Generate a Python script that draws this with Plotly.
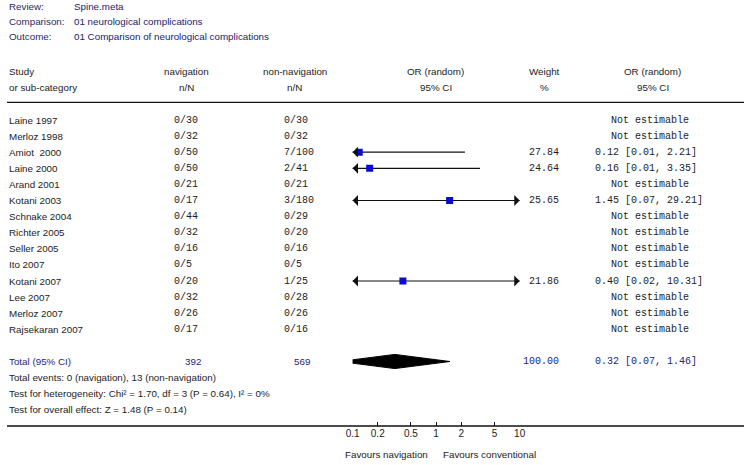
import numpy as np
import plotly.graph_objects as go

# ---------------- data ----------------
header_labels = ["Review:", "Comparison:", "Outcome:"]
header_values = ["Spine.meta", "01 neurological complications", "01 Comparison of neurological complications"]

studies = ["Laine 1997", "Merloz 1998", "Amiot\u00a0 2000", "Laine 2000", "Arand 2001", "Kotani 2003",
           "Schnake 2004", "Richter 2005", "Seller 2005", "Ito 2007", "Kotani 2007", "Lee 2007",
           "Merloz 2007", "Rajsekaran 2007"]
nav_nN = ["0/30", "0/32", "0/50", "0/50", "0/21", "0/17", "0/44", "0/32", "0/16", "0/5", "0/20", "0/32", "0/26", "0/17"]
nonnav_nN = ["0/30", "0/32", "7/100", "2/41", "0/21", "3/180", "0/29", "0/20", "0/16", "0/5", "1/25", "0/28", "0/26", "0/16"]
weights = [None, None, 27.84, 24.64, None, 25.65, None, None, None, None, 21.86, None, None, None]
or_est = [None, None, 0.12, 0.16, None, 1.45, None, None, None, None, 0.40, None, None, None]
ci_low = [None, None, 0.01, 0.01, None, 0.07, None, None, None, None, 0.02, None, None, None]
ci_high = [None, None, 2.21, 3.35, None, 29.21, None, None, None, None, 10.31, None, None, None]

total_label = "Total (95% CI)"
total_nav = "392"
total_nonnav = "569"
total_weight = 100.00
total_or = 0.32
total_low = 0.07
total_high = 1.46
footer_lines = ["Total events: 0 (navigation), 13 (non-navigation)",
                "Test for heterogeneity: Chi\u00b2 = 1.70, df = 3 (P = 0.64), I\u00b2 = 0%",
                "Test for overall effect: Z = 1.48 (P = 0.14)"]

tick_vals = [0.1, 0.2, 0.5, 1, 2, 5, 10]
tick_text = ["0.1", "0.2", "0.5", "1", "2", "5", "10"]
axis_min, axis_max = 0.1, 10
favours_left = "Favours navigation"
favours_right = "Favours conventional"

# ---------------- layout helpers ----------------
W, H = 750, 465
ROW0, ROWH = 120.0, 16.1


def px(x):
    return x / W


def py(y):
    return 1 - y / H


SANS = "Liberation Sans, Arial, sans-serif"
MONO = "Liberation Mono, Courier New, monospace"
SS = 9.8
MS = 10
TXT = "#1c1c1c"
NAVY = "#24247a"
HEAD = "#2a2a5c"

fig = go.Figure()
annotations = []


def text(x, y, s, anchor="left", font=SANS, size=SS, color=TXT, yref="paper"):
    annotations.append(dict(x=x, y=y, xref="paper", yref=yref, text=s, showarrow=False,
                            xanchor=anchor, yanchor="middle", borderpad=0,
                            font=dict(family=font, size=size, color=color)))


# header block
for i, (lab, val) in enumerate(zip(header_labels, header_values)):
    yy = py(6 + i * 15.3)
    text(px(1), yy, lab, color=HEAD)
    text(px(67), yy, val, color="#1a1a6a")

# column headers
text(px(1), py(71), "Study")
text(px(1), py(87), "or sub-category")
text(px(182.5), py(71), "navigation", anchor="center")
text(px(182.5), py(87), "n/N", anchor="center")
text(px(293), py(71), "non-navigation", anchor="center")
text(px(293), py(87), "n/N", anchor="center")
text(px(436.5), py(71), "OR (random)", anchor="center")
text(px(436.5), py(87), "95% CI", anchor="center")
text(px(547), py(71), "Weight", anchor="center")
text(px(547), py(87), "%", anchor="center")
text(px(657), py(71), "OR (random)", anchor="center")
text(px(657), py(87), "95% CI", anchor="center")

# study rows
rows = list(range(len(studies)))
for i in rows:
    text(px(1), i, studies[i], yref="y")
    text(px(169), i, nav_nN[i], font=MONO, size=MS, yref="y")
    text(px(281), i, nonnav_nN[i], font=MONO, size=MS, yref="y")
    if or_est[i] is None:
        text(px(614), i, "Not estimable", font=MONO, size=MS, yref="y")
    else:
        text(px(563), i, f"{weights[i]:.2f}", anchor="right", font=MONO, size=MS, yref="y")
        text(px(597), i, f"{or_est[i]:.2f} [{ci_low[i]:.2f}, {ci_high[i]:.2f}]",
             font=MONO, size=MS, yref="y")

# total row + footer
trow = len(studies) + 1
text(px(1), trow, total_label, color=NAVY, yref="y")
text(px(189), trow, total_nav, anchor="center", color=NAVY, yref="y")
text(px(300), trow, total_nonnav, anchor="center", color=NAVY, yref="y")
text(px(563), trow, f"{total_weight:.2f}", anchor="right", font=MONO, size=MS, color=NAVY, yref="y")
text(px(597), trow, f"{total_or:.2f} [{total_low:.2f}, {total_high:.2f}]", font=MONO, size=MS,
     color=NAVY, yref="y")
for k, line in enumerate(footer_lines):
    text(px(1), trow + 1 + k, line, yref="y")

# favours labels
text(px(429), py(454), favours_left, anchor="right")
text(px(443), py(454), favours_right, anchor="left")

# CI lines
est_rows = [i for i in rows if or_est[i] is not None]
for i in est_rows:
    fig.add_trace(go.Scatter(x=[ci_low[i], ci_high[i]], y=[i, i], mode="lines",
                             line=dict(color="#111111", width=1.2), hoverinfo="skip", showlegend=False))
    if ci_low[i] < axis_min:
        annotations.append(dict(x=np.log10(axis_min), y=i, xref="x", yref="y", text="", showarrow=True,
                                ax=4, ay=0, arrowhead=1, arrowsize=1.5, arrowwidth=1.2,
                                arrowcolor="#111111"))
    if ci_high[i] > axis_max:
        annotations.append(dict(x=np.log10(axis_max), y=i, xref="x", yref="y", text="", showarrow=True,
                                ax=-4, ay=0, arrowhead=1, arrowsize=1.5, arrowwidth=1.2,
                                arrowcolor="#111111"))

# study squares
fig.add_trace(go.Scatter(x=[or_est[i] for i in est_rows], y=est_rows, mode="markers",
                         marker=dict(symbol="square", size=7, color="#0a0ad0",
                                     line=dict(width=0)),
                         hoverinfo="skip", showlegend=False))

# pooled diamond
dh = 0.44
fig.add_trace(go.Scatter(x=[total_low, total_or, total_high, total_or, total_low],
                         y=[trow, trow - dh, trow, trow + dh, trow], mode="lines", fill="toself",
                         fillcolor="#000000", line=dict(color="#000000", width=1),
                         hoverinfo="skip", showlegend=False))

shapes = [
    dict(type="line", xref="paper", yref="paper", x0=0, x1=1, y0=py(102.3), y1=py(102.3),
         line=dict(color="#111111", width=1.3)),
    dict(type="line", xref="paper", yref="paper", x0=0, x1=1, y0=py(426), y1=py(426),
         line=dict(color="#111111", width=1.3)),
    dict(type="line", xref="x", yref="paper", x0=np.log10(1), x1=np.log10(1), y0=py(426), y1=py(102.3),
         line=dict(color="#111111", width=1)),
]

fig.update_layout(
    width=W, height=H, margin=dict(l=0, r=0, t=0, b=0),
    paper_bgcolor="white", plot_bgcolor="rgba(0,0,0,0)",
    xaxis=dict(type="log", range=[np.log10(axis_min), np.log10(axis_max)],
               domain=[px(351.7), px(521.7)], anchor="free", position=py(426),
               tickvals=tick_vals, ticktext=tick_text, ticks="inside", ticklen=4, tickwidth=1,
               tickcolor="#111111", showgrid=False, zeroline=False, showline=False,
               tickfont=dict(family=SANS, size=10, color=TXT)),
    yaxis=dict(range=[(H - ROW0) / ROWH, -ROW0 / ROWH], domain=[0, 1], visible=False,
               showgrid=False, zeroline=False),
    annotations=annotations, shapes=shapes, showlegend=False,
)

fig.write_html("out.html", config={"displayModeBar": False, "staticPlot": True},
               post_script="document.body.style.margin='0';document.body.style.overflow='hidden';")
